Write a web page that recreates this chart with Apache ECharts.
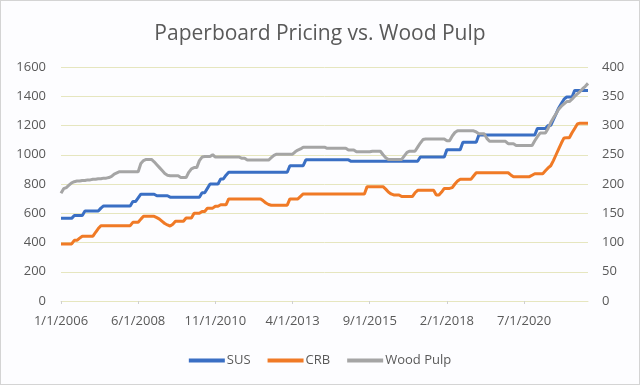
<!DOCTYPE html>
<html>
<head>
<meta charset="utf-8">
<script src="https://cdn.jsdelivr.net/npm/echarts@6/dist/echarts.min.js"></script>
<style>
html,body{margin:0;padding:0;background:#fdfdff;}
#c{width:640px;height:385px;box-sizing:border-box;border:1px solid #d4d4d4;}
</style>
</head>
<body>
<div id="c"></div>
<script>
// Monthly data, Jan 2006 .. Jul 2022
const startYear = 2006, startMonth = 1, monthCount = 199;
const tickLabels = ['1/1/2006','6/1/2008','11/1/2010','4/1/2013','9/1/2015','2/1/2018','7/1/2020'];
const seriesNames = ['SUS','CRB','Wood Pulp'];

const sus = [
565,565,565,565,565, 585,585,585,585, 615,615,615,615,615,615, 635,
650,650,650,650,650,650,650,650,650,650,650, 680,680, 705,
730,730,730,730,730,730, 720,720,720,720,720,
710,710,710,710,710,710,710,710,710,710,710,710, 740,740, 770,
800,800,800,800, 835,835, 860,
880,880,880,880,880,880,880,880,880,880,880,880,880,880,880,880,880,880,880,880,880,880,880,
925,925,925,925,925,925,
965,965,965,965,965,965,965,965,965,965,965,965,965,965,965,965,965,
955,955,955,955,955,955,955,955,955,955,955,955,955,955,955,955,955,955,955,955,955,955,955,955,955,955,
985,985,985,985,985,985,985,985,985,985,
1035,1035,1035,1035,1035,1035,
1085,1085,1085,1085,1085,1085,
1135,1135,1135,1135,1135,1135,1135,1135,1135,1135,1135,1135,1135,1135,1135,1135,1135,1135,1135,1135,1135,1135,
1180,1180,1180,1180, 1200,1200,
1240,1280,1320,1350,1380, 1395,1395,1395,
1440,1440,1440,1440,1440,1440
];

const crb = [
390,390,390,390,390, 415,415, 430, 443,443,443,443,443, 470, 495,
515,515,515,515,515,515,515,515,515,515,515,515, 538,538,538, 560,
579,579,579,579,579, 570,560,545,530,520,512, 525, 545,545,545,545,
567,567,567, 600,600,600, 612,612, 635,635,635, 648,648, 658,658,658,
698,698,698,698,698,698,698,698,698,698,698,698,698, 685,670,660,
655,655,655,655,655,655,655, 698,698,698,698, 715,
732,732,732,732,732,732,732,732,732,732,732,732,732,732,732,732,732,732,732,732,732,732,732,732,
782,782,782,782,782,782,782, 765,745,732, 725,725,725, 714,714,714,714,714, 740,
757,757,757,757,757,757,757, 725,725, 745, 770,770,770, 775,800,820,
832,832,832,832,832, 855,
877,877,877,877,877,877,877,877,877,877,877,877,877, 862,
850,850,850,850,850,850,850, 860, 870,870,870,870, 890,910,925,
960,1000,1040,1080,1115, 1116,1116, 1150,1180,1210, 1216,1216,1216,1216
];

const woodPulp = [
184,192,194,198,202,204,
205,205,206,206,207,207,208,208,209,209,210,210,
211,213,217,219, 221,221,221,221,221,221,221,221,
235,240,242,242,242, 238,233,228,223,218,215, 214,214,214,214, 211,211,211,
220,226,228,228, 240,246,247,247,247,250, 246,246,246,246,246,
246,246,246,246,246, 244,244, 241,241,241,241,241,241,241,241,241,
245,249, 251,251,251,251,251,251,251, 255,258,260,
263,263,263,263,263,263,263,263,263, 261,261,261,261,261,261,261,261,
258,258,258, 255,255,255,255,255,255, 256,256,256,256, 250,245,
242,242,242,242,242,242, 248,254, 256,256,256, 263,270,276,
277,277,277,277,277,277,277,277, 274,274, 282,288,
291,291,291,291,291,291,291, 289, 286,286,286, 278,
273,273,273,273,273,273,273, 269,269,269, 266,266,266,266,266,266,266,
274,281, 287,287,287, 295,305,313,320,328,333,337, 341,341,
345,350,354,358,363,367,372
];

if (sus.length !== monthCount || crb.length !== monthCount || woodPulp.length !== monthCount) {
  throw new Error('length mismatch ' + sus.length + ' ' + crb.length + ' ' + woodPulp.length);
}

const categories = [];
for (let k = 0; k < monthCount; k++) {
  const m0 = startMonth - 1 + k;
  categories.push(((m0 % 12) + 1) + '/1/' + (startYear + Math.floor(m0 / 12)));
}
const labelStep = categories.indexOf(tickLabels[1]);

const textColor = '#595959';
const gridColor = '#e6e6bf';
const chart = echarts.init(document.getElementById('c'), null, {renderer: 'canvas'});
chart.setOption({
  backgroundColor: '#fdfdff',
  animation: false,
  title: {
    text: 'Paperboard Pricing vs. Wood Pulp',
    left: 'center',
    top: 18,
    textStyle: {fontFamily: 'Open Sans', fontSize: 21, fontWeight: 'normal', color: textColor}
  },
  legend: {
    data: seriesNames,
    bottom: 12,
    left: 'center',
    icon: 'rect',
    itemWidth: 36,
    itemHeight: 4,
    itemGap: 17,
    textStyle: {fontFamily: 'Open Sans', fontSize: 13, color: textColor, padding: [0, 0, 0, -3]}
  },
  grid: {left: 60, right: 51, top: 66, bottom: 83, containLabel: false},
  xAxis: {
    type: 'category',
    data: categories,
    boundaryGap: false,
    axisLine: {lineStyle: {color: gridColor, width: 1}},
    axisTick: {show: true, interval: labelStep - 1, length: 3, lineStyle: {color: '#d0d0d0'}},
    axisLabel: {interval: labelStep - 1, margin: 14, fontFamily: 'Open Sans', fontSize: 13, color: textColor},
    splitLine: {show: false}
  },
  yAxis: [
    {
      type: 'value', min: 0, max: 1600, interval: 200,
      axisLine: {show: false}, axisTick: {show: false},
      axisLabel: {margin: 15, fontFamily: 'Open Sans', fontSize: 13, color: textColor,
                  formatter: function (v) { return String(v); }},
      splitLine: {lineStyle: {color: gridColor, width: 1}}
    },
    {
      type: 'value', min: 0, max: 400, interval: 50, position: 'right',
      axisLine: {show: false}, axisTick: {show: false},
      axisLabel: {margin: 14, fontFamily: 'Open Sans', fontSize: 13, color: textColor,
                  formatter: function (v) { return String(v); }},
      splitLine: {show: false}
    }
  ],
  series: [
    {name: seriesNames[0], type: 'line', data: sus, yAxisIndex: 0, showSymbol: false, symbol: 'none',
     lineStyle: {color: '#3a6fc4', width: 3}, itemStyle: {color: '#3a6fc4'}},
    {name: seriesNames[1], type: 'line', data: crb, yAxisIndex: 0, showSymbol: false, symbol: 'none',
     lineStyle: {color: '#f07a26', width: 3}, itemStyle: {color: '#f07a26'}},
    {name: seriesNames[2], type: 'line', data: woodPulp, yAxisIndex: 1, showSymbol: false, symbol: 'none',
     lineStyle: {color: '#a5a5a5', width: 3}, itemStyle: {color: '#a5a5a5'}}
  ]
});
</script>
</body>
</html>
